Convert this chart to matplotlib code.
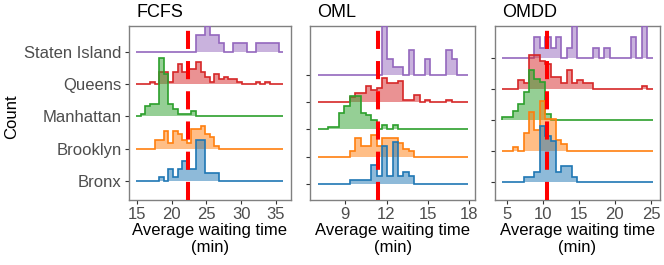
import numpy as np
import matplotlib.pyplot as plt
from matplotlib.transforms import blended_transform_factory

plt.rcParams['font.family'] = ['Liberation Sans', 'DejaVu Sans']

boroughs = ['Bronx', 'Brooklyn', 'Manhattan', 'Queens', 'Staten Island']
zones = [43, 61, 69, 69, 20]
colors = ['#1f77b4', '#ff7f0e', '#2ca02c', '#d62728', '#9467bd']

policies = ['FCFS', 'OML', 'OMDD']
wait_min = [14.9, 7.0, 4.4]
wait_max = [36.1, 17.9, 25.2]
mean_wait = [22.3, 11.4, 10.6]
xticks = [[15, 20, 25, 30, 35], [9, 12, 15, 18], [5, 10, 15, 20, 25]]

# zones per histogram bin (FCFS 32 bins, OML/OMDD 28 bins)
fcfs_bronx = [0, 0, 0, 0, 0, 1, 0, 3, 1, 3, 5, 3, 3, 10, 10, 2, 2, 2, 0, 0, 0, 0, 0, 0, 0, 0, 0, 0, 0, 0, 0, 0]
fcfs_brooklyn = [0, 0, 0, 0, 3, 3, 6, 2, 6, 5, 3, 2, 7, 7, 8, 5, 4, 1, 0, 0, 0, 0, 0, 0, 0, 0, 0, 0, 0, 0, 0, 0]
fcfs_manhattan = [0, 1, 4, 5, 5, 23, 17, 5, 3, 1, 1, 1, 2, 0, 0, 0, 0, 0, 0, 0, 0, 0, 0, 0, 0, 0, 0, 0, 0, 0, 0, 0]
fcfs_queens = [0, 0, 0, 1, 0, 5, 5, 1, 5, 8, 5, 6, 6, 9, 5, 3, 1, 4, 2, 3, 2, 2, 1, 0, 0, 0, 1, 0, 1, 0, 0, 0]
fcfs_staten = [0, 0, 0, 0, 0, 0, 0, 0, 0, 0, 0, 0, 0, 2, 2, 3, 2, 2, 1, 0, 0, 1, 1, 1, 0, 0, 1, 1, 1, 1, 1, 0]

oml_bronx = [0, 0, 0, 0, 0, 0, 1, 1, 1, 1, 5, 2, 10, 2, 11, 2, 3, 2, 0, 0, 0, 0, 0, 0, 0, 0, 0, 0]
oml_brooklyn = [0, 0, 0, 0, 0, 0, 2, 7, 4, 4, 8, 4, 7, 7, 7, 5, 3, 2, 0, 0, 0, 0, 0, 0, 0, 0, 0, 0]
oml_manhattan = [0, 0, 1, 1, 7, 10, 14, 14, 7, 6, 4, 0, 2, 0, 2, 0, 0, 0, 0, 0, 0, 0, 0, 0, 0, 0, 0, 0]
oml_queens = [0, 0, 0, 0, 0, 0, 2, 4, 4, 7, 5, 6, 10, 8, 8, 9, 1, 1, 3, 0, 1, 0, 0, 0, 1, 0, 0, 0]
oml_staten = [0, 0, 0, 0, 0, 0, 0, 0, 0, 0, 0, 0, 6, 2, 1, 1, 0, 3, 0, 0, 2, 0, 0, 0, 3, 2, 0, 0]

omdd_bronx = [0, 0, 0, 0, 1, 1, 2, 11, 9, 8, 2, 3, 3, 1, 0, 0, 0, 0, 0, 0, 0, 0, 0, 0, 0, 0, 0, 0]
omdd_brooklyn = [0, 0, 1, 0, 5, 11, 6, 14, 9, 9, 3, 2, 0, 0, 0, 0, 0, 0, 0, 0, 0, 0, 0, 0, 0, 0, 0, 0]
omdd_manhattan = [1, 1, 3, 5, 9, 16, 13, 12, 2, 0, 0, 0, 0, 0, 0, 0, 0, 0, 0, 0, 0, 0, 0, 0, 0, 0, 0, 0]
omdd_queens = [0, 0, 0, 3, 2, 11, 11, 9, 8, 4, 4, 2, 6, 2, 3, 2, 2, 0, 0, 0, 0, 0, 0, 0, 0, 0, 1, 0]
omdd_staten = [0, 0, 0, 0, 0, 0, 2, 1, 2, 1, 2, 0, 1, 3, 0, 0, 0, 1, 0, 1, 0, 0, 0, 0, 2, 0, 3, 0]

counts = [
    [fcfs_bronx, fcfs_brooklyn, fcfs_manhattan, fcfs_queens, fcfs_staten],
    [oml_bronx, oml_brooklyn, oml_manhattan, oml_queens, oml_staten],
    [omdd_bronx, omdd_brooklyn, omdd_manhattan, omdd_queens, omdd_staten],
]

fig = plt.figure(figsize=(6.64, 2.65), dpi=100)
panel_pos = [(0.194, 0.244), (0.467, 0.249), (0.745, 0.249)]

for p in range(3):
    left, width = panel_pos[p]
    ax = fig.add_axes([left, 0.245, width, 0.657])
    nb = len(counts[p][0])
    edges = np.linspace(wait_min[p], wait_max[p], nb + 1)
    bw = edges[1] - edges[0]
    dens = [np.array(c) / (n * bw) for c, n in zip(counts[p], zones)]
    scale = 1.8 / max(d.max() for d in dens)

    for i in reversed(range(5)):
        h = dens[i] * scale + i
        z = 10 - i
        ax.stairs(h, edges, baseline=i, fill=True, color=colors[i], alpha=0.5, lw=0, zorder=z)
        ax.stairs(h, edges, baseline=i, fill=False, color=colors[i], lw=1.2, zorder=z)

    ax.axvline(mean_wait[p], color='red', lw=2.9, ls=(0, (4.5, 3.0)), zorder=20)

    span = wait_max[p] - wait_min[p]
    ax.set_xlim(wait_min[p] - 0.05 * span, wait_max[p] + 0.05 * span)
    top = max(i + dens[i].max() * scale for i in range(5))
    ax.set_ylim(-0.6, top)

    ax.set_xticks(xticks[p])
    ax.set_yticks(range(5))
    if p == 0:
        ax.set_yticklabels(boroughs)
    else:
        ax.set_yticklabels([])
    ax.tick_params(labelsize=12, labelcolor='#4d4d4d', color='#333333', length=3, width=0.8, pad=2)
    for s in ax.spines.values():
        s.set_color('#808080')
        s.set_linewidth(1.0)

    ax.set_xlabel('Average waiting time\n(min)', fontsize=12, labelpad=1, linespacing=1.1)
    trans = blended_transform_factory(ax.transData, ax.transAxes)
    ax.text(wait_min[p], 1.05, policies[p], transform=trans, fontsize=13,
            ha='left', va='baseline')

fig.text(0.018, 0.558, 'Count', rotation=90, fontsize=12, ha='center', va='center')

fig.savefig('out.png', dpi=100)
